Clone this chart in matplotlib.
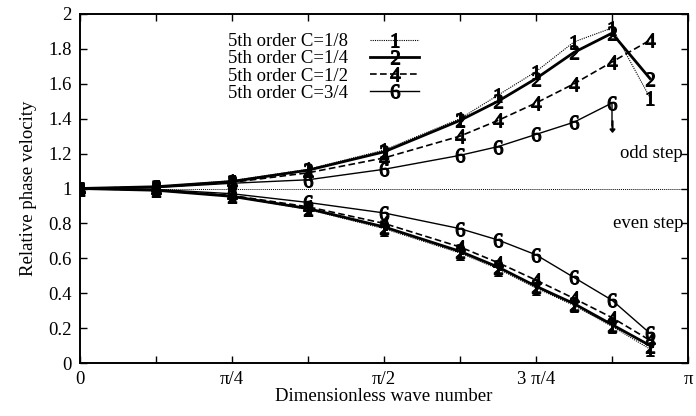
import numpy as np
import matplotlib
matplotlib.use("Agg")
import matplotlib.pyplot as plt

plt.rcParams["font.family"] = ["Liberation Serif", "DejaVu Serif"]
plt.rcParams["mathtext.fontset"] = "custom"
plt.rcParams["mathtext.rm"] = "Liberation Serif"
plt.rcParams["mathtext.it"] = "Liberation Serif"

PI = np.pi
# sample positions, in units of pi/16
k16 = [0, 2, 4, 6, 8, 10, 11, 12, 13, 14, 15]
wave = [k * PI / 16 for k in k16]

# odd step (upper branch)
odd_c18 = [1.0, 1.01, 1.045, 1.11, 1.22, 1.40, 1.535, 1.67, 1.84, 1.92, 1.52]
odd_c14 = [1.0, 1.01, 1.04, 1.105, 1.21, 1.39, 1.50, 1.63, 1.78, 1.89, 1.63]
odd_c12 = [1.0, 1.01, 1.035, 1.09, 1.175, 1.30, 1.39, 1.49, 1.60, 1.725, 1.85]
odd_c34 = [1.0, 1.005, 1.03, 1.05, 1.11, 1.19, 1.24, 1.31, 1.38, 1.49]
odd_c34_tail = 1.36

# even step (lower branch)
even_c18 = [1.0, 0.99, 0.955, 0.88, 0.77, 0.63, 0.54, 0.43, 0.33, 0.21, 0.08]
even_c14 = [1.0, 0.99, 0.955, 0.885, 0.78, 0.64, 0.55, 0.44, 0.34, 0.22, 0.10]
even_c12 = [1.0, 0.99, 0.96, 0.895, 0.80, 0.665, 0.575, 0.475, 0.37, 0.26, 0.13]
even_c34 = [1.0, 0.995, 0.97, 0.92, 0.86, 0.77, 0.705, 0.62, 0.49, 0.36, 0.17]

labels = ["5th order C=1/8", "5th order C=1/4", "5th order C=1/2", "5th order C=3/4"]
marks = ["1", "2", "4", "6"]
reference_level = 1.0

x_ticks = [k * PI / 8 for k in range(9)]
x_ticklabels = ["0", "", "\u03c0/4", "", "\u03c0/2", "", "3 \u03c0/4", "", "\u03c0"]
y_ticks = [0, 0.2, 0.4, 0.6, 0.8, 1, 1.2, 1.4, 1.6, 1.8, 2]
y_ticklabels = ["0", "0.2", "0.4", "0.6", "0.8", "1", "1.2", "1.4", "1.6", "1.8", "2"]

styles = [
    dict(ls=(0, (1, 1)), lw=0.8),
    dict(ls="-", lw=2.0),
    dict(ls=(0, (4, 2)), lw=1.2),
    dict(ls="-", lw=1.0),
]

fig = plt.figure(figsize=(6.96, 4.16), dpi=100)
ax = fig.add_axes([80 / 696, 1 - 363 / 416, 608 / 696, 349 / 416])

ax.axhline(reference_level, color="black", lw=0.7, ls=(0, (1, 1)))

ms = 10
mew = 0.8
odd = [odd_c18, odd_c14, odd_c12]
even = [even_c18, even_c14, even_c12, even_c34]
handles = []
for i in range(3):
    h, = ax.plot(wave, odd[i], color="black", marker=f"${marks[i]}$", ms=ms,
                 mew=mew, **styles[i])
    handles.append(h)
# C=3/4 odd branch with its drop at the last point
x34 = wave[:len(odd_c34)] + [wave[len(odd_c34) - 1]]
y34 = odd_c34 + [odd_c34_tail]
h, = ax.plot(x34, y34, color="black", marker=f"${marks[3]}$", ms=ms, mew=mew,
             markevery=list(range(len(odd_c34))), **styles[3])
handles.append(h)
ax.plot([x34[-1]], [y34[-1]], color="black", marker="$\u2193$", ms=8, ls="none")

for i in range(4):
    ax.plot(wave, even[i], color="black", marker=f"${marks[i]}$", ms=ms,
            mew=mew, **styles[i])

ax.set_xlim(0, PI)
ax.set_ylim(0, 2)
ax.set_xticks(x_ticks)
ax.set_xticklabels(x_ticklabels)
ax.set_yticks(y_ticks)
ax.set_yticklabels(y_ticklabels)
ax.tick_params(direction="in", length=5, width=1.0, top=True, right=True,
               labelsize=13.5, pad=6)
for s in ax.spines.values():
    s.set_linewidth(1.4)

ax.set_xlabel("Dimensionless wave number", fontsize=13.5, labelpad=0)
ax.set_ylabel("Relative phase velocity", fontsize=13.5, labelpad=8)

ax.text(0.992, 1.2, "odd step", transform=ax.get_yaxis_transform(),
        ha="right", va="center", fontsize=13.5)
ax.text(0.992, 0.8, "even step", transform=ax.get_yaxis_transform(),
        ha="right", va="center", fontsize=13.5)

leg = ax.legend(handles, labels, loc="upper left", bbox_to_anchor=(0.243, 0.945),
                frameon=False, markerfirst=False, fontsize=13.5, handlelength=2.6,
                handletextpad=1.2, labelspacing=0.0, borderpad=0, borderaxespad=0,
                numpoints=1)

fig.savefig("out.png", dpi=100)
